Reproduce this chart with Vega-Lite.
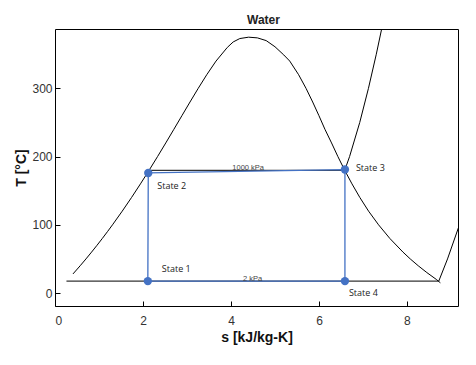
{
  "$schema": "https://vega.github.io/schema/vega-lite/v6.json",
  "width": 403,
  "height": 277,
  "autosize": {"type": "none"},
  "padding": {"left": 55, "top": 29, "right": 18, "bottom": 59},
  "background": "white",
  "title": {"text": "Water", "fontSize": 12, "fontWeight": "bold", "font": "Liberation Sans", "color": "#222", "offset": 2, "dx": 7},
  "config": {
    "view": {"stroke": "#000", "strokeWidth": 1},
    "axis": {"grid": false, "domain": false, "labelFont": "Liberation Sans", "titleFont": "Liberation Sans", "tickColor": "#000", "tickWidth": 1}
  },
  "datasets": {
    "curves": [
      {"curve": "dome", "s": 0.409, "T": 28},
      {"curve": "dome", "s": 0.5724, "T": 40},
      {"curve": "dome", "s": 0.7038, "T": 50},
      {"curve": "dome", "s": 0.8313, "T": 60},
      {"curve": "dome", "s": 0.9551, "T": 70},
      {"curve": "dome", "s": 1.0756, "T": 80},
      {"curve": "dome", "s": 1.1929, "T": 90},
      {"curve": "dome", "s": 1.3072, "T": 100},
      {"curve": "dome", "s": 1.5279, "T": 120},
      {"curve": "dome", "s": 1.7392, "T": 140},
      {"curve": "dome", "s": 1.9426, "T": 160},
      {"curve": "dome", "s": 2.1392, "T": 180},
      {"curve": "dome", "s": 2.3305, "T": 200},
      {"curve": "dome", "s": 2.5177, "T": 220},
      {"curve": "dome", "s": 2.702, "T": 240},
      {"curve": "dome", "s": 2.8849, "T": 260},
      {"curve": "dome", "s": 3.0685, "T": 280},
      {"curve": "dome", "s": 3.2552, "T": 300},
      {"curve": "dome", "s": 3.4494, "T": 320},
      {"curve": "dome", "s": 3.6601, "T": 340},
      {"curve": "dome", "s": 3.9167, "T": 360},
      {"curve": "dome", "s": 4.05, "T": 368},
      {"curve": "dome", "s": 4.2, "T": 373},
      {"curve": "dome", "s": 4.4, "T": 375},
      {"curve": "dome", "s": 4.6, "T": 374},
      {"curve": "dome", "s": 4.8, "T": 370},
      {"curve": "dome", "s": 5.0, "T": 361},
      {"curve": "dome", "s": 5.2, "T": 349},
      {"curve": "dome", "s": 5.3356, "T": 340},
      {"curve": "dome", "s": 5.5373, "T": 320},
      {"curve": "dome", "s": 5.7059, "T": 300},
      {"curve": "dome", "s": 5.8571, "T": 280},
      {"curve": "dome", "s": 5.9989, "T": 260},
      {"curve": "dome", "s": 6.1355, "T": 240},
      {"curve": "dome", "s": 6.2861, "T": 220},
      {"curve": "dome", "s": 6.4302, "T": 200},
      {"curve": "dome", "s": 6.5842, "T": 180},
      {"curve": "dome", "s": 6.7502, "T": 160},
      {"curve": "dome", "s": 6.9294, "T": 140},
      {"curve": "dome", "s": 7.1277, "T": 120},
      {"curve": "dome", "s": 7.3542, "T": 100},
      {"curve": "dome", "s": 7.6111, "T": 80},
      {"curve": "dome", "s": 7.9094, "T": 60},
      {"curve": "dome", "s": 8.0748, "T": 50},
      {"curve": "dome", "s": 8.2556, "T": 40},
      {"curve": "dome", "s": 8.452, "T": 30},
      {"curve": "dome", "s": 8.666, "T": 20},
      {"curve": "dome", "s": 8.76, "T": 15},
      {"curve": "2 kPa", "s": 0.2606, "T": 17.5},
      {"curve": "2 kPa", "s": 8.7229, "T": 17.5},
      {"curve": "2 kPa", "s": 8.922, "T": 50},
      {"curve": "2 kPa", "s": 9.193, "T": 100},
      {"curve": "1000 kPa", "s": 2.1381, "T": 179.9},
      {"curve": "1000 kPa", "s": 6.585, "T": 179.9},
      {"curve": "1000 kPa", "s": 6.6956, "T": 200},
      {"curve": "1000 kPa", "s": 6.9265, "T": 250},
      {"curve": "1000 kPa", "s": 7.1246, "T": 300},
      {"curve": "1000 kPa", "s": 7.3029, "T": 350},
      {"curve": "1000 kPa", "s": 7.467, "T": 400}
    ],
    "cycle": [
      {"step": 1, "s": 2.11, "T": 17.5},
      {"step": 2, "s": 2.12, "T": 176},
      {"step": 3, "s": 6.59, "T": 181},
      {"step": 4, "s": 6.59, "T": 17.5},
      {"step": 5, "s": 2.11, "T": 17.5}
    ],
    "states": [
      {"state": "State 1", "s": 2.11, "T": 17.5},
      {"state": "State 2", "s": 2.12, "T": 176},
      {"state": "State 3", "s": 6.59, "T": 181},
      {"state": "State 4", "s": 6.59, "T": 17.5}
    ],
    "isobars": [
      {"label": "1000 kPa", "s": 4.39, "T": 179.9},
      {"label": "2 kPa", "s": 4.49, "T": 17.5}
    ]
  },
  "layer": [
    {
      "data": {"name": "curves"},
      "mark": {"type": "line", "color": "#000", "strokeWidth": 1, "clip": true},
      "encoding": {
        "x": {"field": "s", "type": "quantitative", "scale": {"domain": [0, 9.16], "nice": false, "zero": false},
          "axis": {"orient": "bottom", "values": [0, 2, 4, 6, 8], "ticks": true, "tickSize": -5, "labelPadding": 14, "labelFontSize": 12, "labelColor": "#333", "title": "s [kJ/kg-K]", "titleFontSize": 14, "titleFontWeight": "bold", "titleColor": "#111", "titlePadding": 4}},
        "y": {"field": "T", "type": "quantitative", "scale": {"domain": [-19, 387], "nice": false, "zero": false},
          "axis": {"orient": "left", "values": [0, 100, 200, 300], "ticks": true, "tickSize": -5, "labelPadding": 8, "labelFontSize": 12, "labelColor": "#333", "title": "T [°C]", "titleFontSize": 14, "titleFontWeight": "bold", "titleColor": "#111", "titlePadding": 3}},
        "detail": {"field": "curve"}
      }
    },
    {
      "data": {"name": "cycle"},
      "mark": {"type": "line", "color": "#4472C4", "strokeWidth": 1.3},
      "encoding": {
        "x": {"field": "s", "type": "quantitative"},
        "y": {"field": "T", "type": "quantitative"},
        "order": {"field": "step", "type": "quantitative"}
      }
    },
    {
      "data": {"name": "states"},
      "mark": {"type": "point", "filled": true, "shape": "circle", "size": 70, "color": "#4472C4", "opacity": 1},
      "encoding": {
        "x": {"field": "s", "type": "quantitative"},
        "y": {"field": "T", "type": "quantitative"}
      }
    },
    {
      "data": {"name": "states"},
      "transform": [{"filter": "datum.state === 'State 1'"}],
      "mark": {"type": "text", "align": "left", "baseline": "middle", "dx": 14, "dy": -12, "font": "Open Sans", "fontSize": 9, "color": "#222"},
      "encoding": {"x": {"field": "s", "type": "quantitative"}, "y": {"field": "T", "type": "quantitative"}, "text": {"field": "state"}}
    },
    {
      "data": {"name": "states"},
      "transform": [{"filter": "datum.state === 'State 2'"}],
      "mark": {"type": "text", "align": "left", "baseline": "middle", "dx": 9, "dy": 13, "font": "Open Sans", "fontSize": 9, "color": "#222"},
      "encoding": {"x": {"field": "s", "type": "quantitative"}, "y": {"field": "T", "type": "quantitative"}, "text": {"field": "state"}}
    },
    {
      "data": {"name": "states"},
      "transform": [{"filter": "datum.state === 'State 3'"}],
      "mark": {"type": "text", "align": "left", "baseline": "middle", "dx": 11, "dy": -2, "font": "Open Sans", "fontSize": 9, "color": "#222"},
      "encoding": {"x": {"field": "s", "type": "quantitative"}, "y": {"field": "T", "type": "quantitative"}, "text": {"field": "state"}}
    },
    {
      "data": {"name": "states"},
      "transform": [{"filter": "datum.state === 'State 4'"}],
      "mark": {"type": "text", "align": "left", "baseline": "middle", "dx": 4, "dy": 12, "font": "Open Sans", "fontSize": 9, "color": "#222"},
      "encoding": {"x": {"field": "s", "type": "quantitative"}, "y": {"field": "T", "type": "quantitative"}, "text": {"field": "state"}}
    },
    {
      "data": {"name": "isobars"},
      "mark": {"type": "text", "align": "center", "baseline": "middle", "dy": -2, "font": "Liberation Sans", "fontSize": 7.5, "color": "#444"},
      "encoding": {"x": {"field": "s", "type": "quantitative"}, "y": {"field": "T", "type": "quantitative"}, "text": {"field": "label"}}
    }
  ]
}
